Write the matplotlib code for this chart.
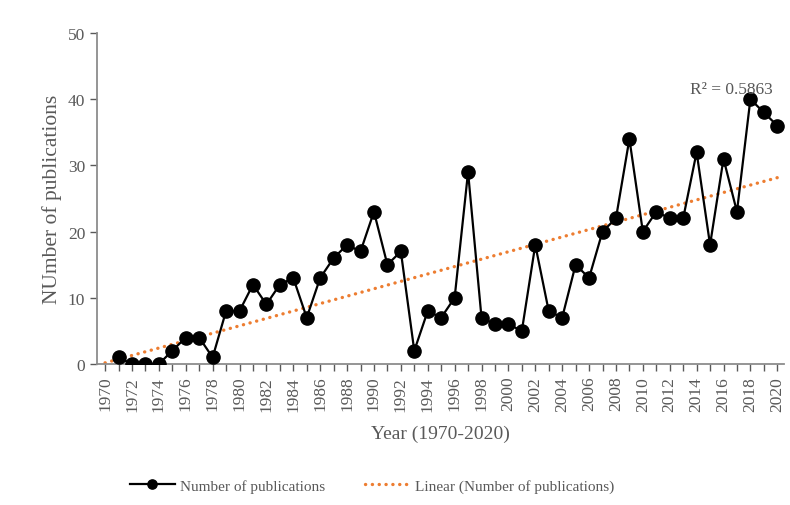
import numpy as np
import matplotlib
matplotlib.use('Agg')
import matplotlib.pyplot as plt

plt.rcParams['font.family'] = ['Liberation Serif', 'DejaVu Serif']

years = list(range(1971, 2021))
pubs = [1, 0, 0, 0, 2, 4, 4, 1, 8, 8, 12, 9, 12, 13, 7, 13, 16, 18, 17, 23,
        15, 17, 2, 8, 7, 10, 29, 7, 6, 6, 5, 18, 8, 7, 15, 13, 20, 22, 34, 20,
        23, 22, 22, 32, 18, 31, 23, 40, 38, 36]
tick_years = list(range(1970, 2021, 2))
r2_text = 'R² = 0.5863'

grey = '#595959'
fig = plt.figure(figsize=(7.9, 5.06), dpi=100)
ax = fig.add_axes([97/790, 1-365/506, 687/790, 331/506])

ax.plot(years, pubs, color='black', lw=1.6, marker='o', ms=9.5,
        label='Number of publications', zorder=3)

# linear trend, drawn back to 1970 like excel
coef = np.polyfit(years, pubs, 1)
tx = np.array([1970, 2020])
ax.plot(tx, np.polyval(coef, tx), color='#ED7D31', lw=2.4, ls=(0, (0.05, 2.0)),
        dash_capstyle='round', label='Linear (Number of publications)', zorder=2)

ax.set_xlim(1969.4, 2020.5)
ax.set_ylim(0, 50)
ax.set_xticks(range(1970, 2021), minor=True)
ax.set_xticks(tick_years)
ax.set_xticklabels([str(y) for y in tick_years], rotation=90)
ax.set_yticks(range(0, 51, 10))
ax.tick_params(axis='both', colors=grey, labelsize=12.5, length=5, width=1)
ax.tick_params(axis='x', which='minor', colors=grey, length=5, width=1)
for s in ['top', 'right']:
    ax.spines[s].set_visible(False)
for s in ['left', 'bottom']:
    ax.spines[s].set_color('#8c8c8c')
    ax.spines[s].set_linewidth(1.3)

ax.set_xlabel('Year (1970-2020)', fontsize=14, color=grey, labelpad=10)
ax.set_ylabel('NUmber of publications', fontsize=15.5, color=grey, labelpad=4)
ax.text(2019.7, 41.6, r2_text, fontsize=12.5, color=grey, ha='right', va='center')

fig.legend(loc='center', bbox_to_anchor=(372/790, 1-487/506), ncol=2,
           frameon=False, fontsize=11, labelcolor=grey, columnspacing=2.6,
           handlelength=3.0, handletextpad=0.3, markerscale=0.7)

plt.savefig('out.png', dpi=100)
